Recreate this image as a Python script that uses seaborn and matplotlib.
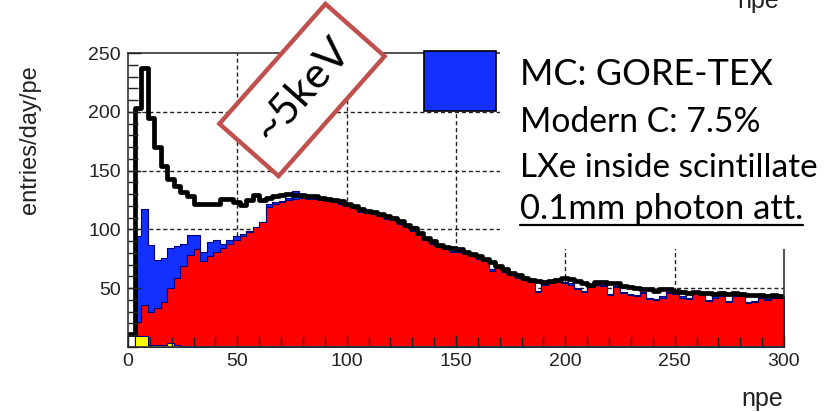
import numpy as np
import pandas as pd
import seaborn as sns
import matplotlib
matplotlib.use("Agg")
import matplotlib.pyplot as plt
from matplotlib.patches import Rectangle
from matplotlib.ticker import MultipleLocator
import matplotlib.transforms as mtrans

# ---------------- data (entries/day/pe per 3-npe bin) ----------------
bin_width = 3
npe_edges = list(range(0, 300 + bin_width, bin_width))

total = [
    11, 203, 237, 195, 170, 154, 143, 137, 132, 128,
    122, 122, 122, 122, 126, 126, 123, 121, 125, 129,
    125, 127, 128, 129, 130, 129, 129, 128, 128, 127,
    126, 125, 124, 122, 120, 117, 116, 115, 113, 111,
    110, 107, 104, 101, 97, 93, 90, 87, 85, 84,
    83, 81, 79, 77, 75, 72, 69, 66, 63, 61,
    59, 57, 56, 55, 56, 57, 59, 58, 56, 54,
    53, 55, 55, 54, 54, 52, 51, 50, 49, 49,
    48, 49, 49, 48, 47, 46, 47, 46, 46, 45,
    46, 45, 46, 45, 44, 44, 44, 43, 44, 43,
]

blue_comp = [
    0, 94, 117, 87, 74, 76, 84, 86, 88, 95,
    95, 81, 89, 91, 88, 91, 94, 96, 99, 102,
    106, 122, 123, 124, 127, 133, 128, 127, 127, 126,
    125, 124, 123, 121, 119, 116, 115, 114, 112, 110,
    109, 106, 104, 103, 96, 92, 89, 86, 84, 82,
    82, 80, 78, 76, 74, 66, 68, 65, 62, 60,
    58, 56, 48, 54, 55, 56, 55, 54, 50, 48,
    52, 54, 53, 45, 52, 47, 45, 44, 47, 42,
    41, 43, 47, 46, 43, 42, 46, 45, 40, 43,
    44, 39, 44, 44, 38, 39, 43, 41, 43, 43,
]

red_comp = [
    0, 21, 36, 30, 33, 38, 50, 59, 69, 78,
    83, 73, 77, 81, 84, 88, 91, 94, 98, 102,
    106, 119, 122, 123, 125, 126, 127, 126, 126, 125,
    124, 123, 122, 120, 118, 115, 114, 113, 111, 109,
    108, 105, 102, 99, 95, 91, 88, 85, 83, 81,
    81, 79, 77, 75, 73, 65, 67, 64, 61, 59,
    57, 55, 47, 53, 54, 55, 54, 53, 49, 47,
    51, 53, 52, 44, 51, 46, 44, 43, 46, 41,
    40, 42, 46, 45, 42, 41, 45, 44, 39, 42,
    43, 38, 43, 43, 37, 38, 42, 40, 42, 42,
]

yellow_comp = [
    0, 9, 9, 2, 2, 2, 3, 2, 1, 1,
    1, 1, 1, 1, 1, 1, 1, 1, 1, 1,
    1, 1, 1, 1, 1, 1, 1, 1, 1, 1,
    1, 1, 1, 1, 1, 1, 1, 1, 1, 1,
    1, 1, 1, 1, 1, 1, 1, 1, 1, 1,
    1, 1, 1, 1, 1, 1, 1, 1, 1, 1,
    1, 1, 1, 1, 1, 1, 1, 1, 1, 1,
    1, 1, 1, 1, 1, 1, 1, 1, 1, 1,
    1, 1, 1, 1, 1, 1, 1, 1, 1, 1,
    1, 1, 1, 1, 1, 1, 1, 1, 1, 1,
]

x_ticks = [0, 50, 100, 150, 200, 250, 300]
y_ticks = [50, 100, 150, 200, 250]
x_label = "npe"
y_label = "entries/day/pe"
box_lines = ["MC: GORE-TEX", "Modern C: 7.5%", "LXe inside scintillate", "0.1mm photon att."]
energy_tag = "~5keV"

# ---------------- figure ----------------
sns.set_theme(style="white")
plt.rcParams["font.family"] = ["Liberation Sans", "DejaVu Sans"]

W, H = 830, 412
fig = plt.figure(figsize=(W / 100, H / 100), dpi=100)
fig.patch.set_facecolor("white")
ax = fig.add_axes([128 / W, (H - 347) / H, (784 - 128) / W, (347 - 53) / H])
ax.set_facecolor("white")

centers = [(a + b) / 2 for a, b in zip(npe_edges[:-1], npe_edges[1:])]
df = pd.DataFrame({"npe": centers, "total": total, "blue": blue_comp,
                   "red": red_comp, "yellow": yellow_comp})

navy = "#00007a"
common = dict(x="npe", bins=npe_edges, element="step", ax=ax, alpha=1)
sns.histplot(data=df, weights="blue", fill=True, color="#1430ff", edgecolor=navy,
             linewidth=0.8, zorder=1.5, **common)
sns.histplot(data=df, weights="red", fill=True, color="#ff0000", edgecolor=navy,
             linewidth=0.8, zorder=1.6, **common)
sns.histplot(data=df, weights="yellow", fill=True, color="#ffff00", edgecolor=navy,
             linewidth=0.8, zorder=1.7, **common)
sns.histplot(data=df, weights="total", fill=False, color="black",
             linewidth=3.4, zorder=2.2, **common)

ax.set_xlim(0, 300)
ax.set_ylim(0, 250)
ax.set_xticks(x_ticks)
ax.set_yticks(y_ticks)
ax.xaxis.set_minor_locator(MultipleLocator(10))
ax.yaxis.set_minor_locator(MultipleLocator(10))
ax.tick_params(which="both", direction="in", left=True, bottom=True, colors="#222222",
               labelsize=14, labelcolor="#222222")
ax.tick_params(which="major", length=9, width=1)
ax.tick_params(which="minor", length=7, width=1)
ax.tick_params(axis="x", pad=4)
ax.tick_params(axis="y", pad=5)
ax.set_xlabel("")
ax.set_ylabel("")
for s in ax.spines.values():
    s.set_visible(True)
    s.set_color("#333333")
    s.set_linewidth(1.2)
ax.set_axisbelow(False)

# dashed grid drawn under the histograms
for v in ax.get_xticks():
    if 0 < v < 300:
        ax.axvline(v, color="#222222", lw=1.0, ls=(0, (3, 2)), zorder=1)
for v in ax.get_yticks():
    if 0 < v < 250:
        ax.axhline(v, color="#222222", lw=1.0, ls=(0, (3, 2)), zorder=1)

# axis titles
fig.text(30 / W, 1 - 140 / H, y_label, rotation=90, ha="center", va="center",
         fontsize=17, color="#222222")
fig.text(762 / W, 1 - 406 / H, x_label, ha="center", va="baseline",
         fontsize=18, color="#222222")

renderer = fig.canvas.get_renderer()

# white slide text box covering the top-right of the plot
fig.add_artist(Rectangle((500 / W, (H - 249) / H), 330 / W, 249 / H,
                         transform=fig.transFigure, fc="white", ec="none", zorder=5))

# cut-off duplicate axis title at the very top (as in the slide)
fig.text(758 / W, 1 - 8 / H, x_label, ha="center", va="baseline",
         fontsize=18, color="#222222", zorder=6)

# blue legend square
fig.add_artist(Rectangle((424 / W, (H - 111) / H), 72 / W, 60 / H,
                         transform=fig.transFigure, fc="#1430ff", ec="black",
                         lw=1.2, zorder=6))


def fit_text(txt, x_px, base_px, width_px, size0=24, **kw):
    t = fig.text(x_px / W, 1 - base_px / H, txt, ha="left", va="baseline",
                 fontsize=size0, family=["Lato", "DejaVu Sans"], color="black",
                 zorder=7, **kw)
    bb = t.get_window_extent(renderer)
    t.set_fontsize(size0 * width_px / bb.width)
    return t


fit_text(box_lines[0], 520, 85, 253)
fit_text(box_lines[1], 520, 132, 240)
fit_text(box_lines[2], 520, 177, 298)
t4 = fit_text(box_lines[3], 520, 219, 283)
bb4 = t4.get_window_extent(renderer)
fig.add_artist(plt.Line2D([bb4.x0 / W, bb4.x1 / W], [(H - 225) / H] * 2,
                          transform=fig.transFigure, color="black", lw=1.6, zorder=7))

# rotated "~5keV" tag
cx, cy = 302, H - 90
ang = 48.5
tag = Rectangle((cx - 80, cy - 39.5), 160, 79, angle=ang, rotation_point="center",
                transform=mtrans.IdentityTransform(), fc="white", ec="#c0504d",
                lw=3.2, zorder=8)
fig.add_artist(tag)
tt = fig.text(cx / W, cy / H, energy_tag, ha="center", va="center",
              fontsize=28, family=["Lato", "DejaVu Sans"], color="black", zorder=9)
bbt = tt.get_window_extent(renderer)
tt.set_fontsize(28 * 124 / bbt.width)
tt.set_rotation(ang)
tt.set_rotation_mode("anchor")

fig.savefig("out.png", dpi=100)
